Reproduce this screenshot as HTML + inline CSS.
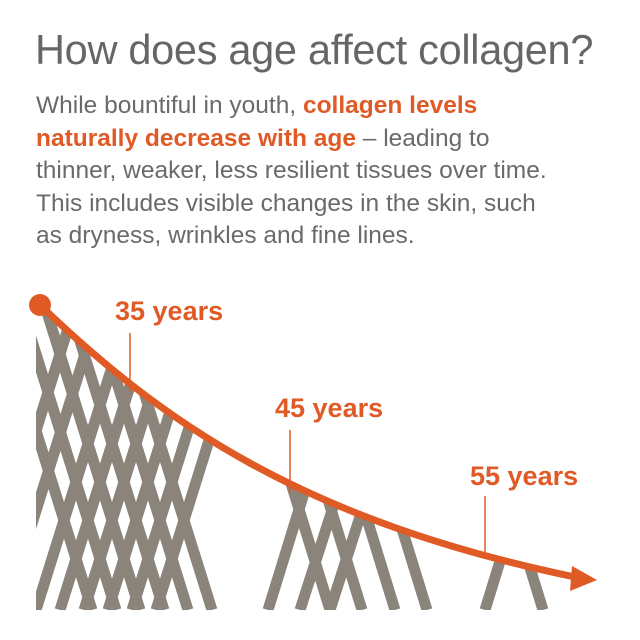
<!DOCTYPE html><html><head><style>
body{margin:0;width:640px;height:640px;background:#fff;overflow:hidden;font-family:"Liberation Sans",sans-serif}
h1{position:absolute;left:35px;top:26px;margin:0;font-weight:normal;font-size:41.5px;color:#666;letter-spacing:-0.3px;white-space:nowrap}
p{position:absolute;left:36px;top:90px;margin:0;width:620px;font-size:24.5px;line-height:32.5px;color:#6a6a6a;white-space:nowrap}
b{color:#e05a26}
</style></head><body>
<h1>How does age affect collagen?</h1>
<p>While bountiful in youth, <b>collagen levels</b><br><b>naturally decrease with age</b> – leading to<br>thinner, weaker, less resilient tissues over time.<br>This includes visible changes in the skin, such<br>as dryness, wrinkles and fine lines.</p>
<svg width="640" height="640" style="position:absolute;left:0;top:0">
<defs><clipPath id="c"><path d="M36,305 C160,420 300,520 575,577 L640,580 L640,610 L36,610 Z"/></clipPath></defs>
<g clip-path="url(#c)" stroke="#8a847a" stroke-width="11">
<line x1="36" y1="610" x2="136" y2="290"/><line x1="60" y1="610" x2="160" y2="290"/><line x1="84" y1="610" x2="184" y2="290"/><line x1="108" y1="610" x2="208" y2="290"/><line x1="132" y1="610" x2="232" y2="290"/><line x1="156" y1="610" x2="256" y2="290"/>
<line x1="-20" y1="610" x2="80" y2="290"/><line x1="5" y1="610" x2="105" y2="290"/>
<line x1="140" y1="610" x2="40" y2="290"/><line x1="164" y1="610" x2="64" y2="290"/><line x1="188" y1="610" x2="88" y2="290"/><line x1="212" y1="610" x2="112" y2="290"/><line x1="116" y1="610" x2="16" y2="290"/><line x1="92" y1="610" x2="-8" y2="290"/>
<line x1="268" y1="610" x2="305" y2="490"/><line x1="300" y1="610" x2="345" y2="470"/><line x1="330" y1="610" x2="375" y2="470"/>
<line x1="330" y1="610" x2="290" y2="480"/><line x1="362" y1="610" x2="322" y2="480"/><line x1="395" y1="610" x2="355" y2="480"/><line x1="427" y1="610" x2="387" y2="480"/>
<line x1="485" y1="610" x2="505" y2="545"/><line x1="543" y1="610" x2="523" y2="545"/>
</g>
<rect x="0" y="280" width="36" height="340" fill="#fff"/>
<path d="M40,305 C160,420 300,520 575,577" fill="none" stroke="#e05a26" stroke-width="7"/>
<polygon points="572,566 597,580 570,591" fill="#e05a26"/>
<circle cx="40" cy="305" r="11" fill="#e05a26"/>
<g stroke="#e05a26" stroke-width="1.5"><line x1="130" y1="333" x2="130" y2="392"/><line x1="290" y1="430" x2="290" y2="493"/><line x1="485" y1="496" x2="485" y2="558"/></g>
<g fill="#e05a26" font-family="Liberation Sans" font-weight="bold" font-size="27"><text x="115" y="320">35 years</text><text x="275" y="417">45 years</text><text x="470" y="485">55 years</text></g>
</svg>
</body></html>
